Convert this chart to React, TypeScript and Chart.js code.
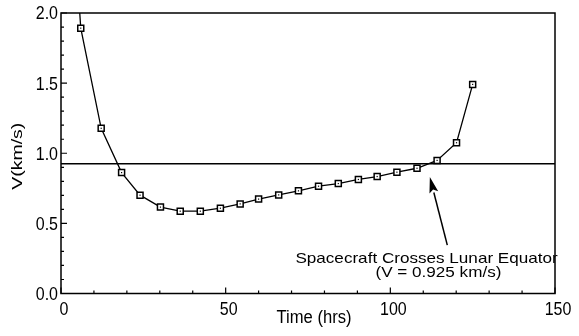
import React, { useEffect, useRef } from 'react';
import { Chart, registerables } from 'chart.js';

Chart.register(...registerables);

// Data
const timeHrs = [0, 6, 12.2, 18.4, 24, 30.2, 36.2, 42.3, 48.4, 54.4, 60, 66.1, 72.1, 78.2, 84.2, 90.3, 96, 102, 108.1, 114.2, 120.1, 125];
const velocity = [4.0, 1.892, 1.178, 0.862, 0.701, 0.616, 0.587, 0.587, 0.608, 0.639, 0.673, 0.703, 0.732, 0.765, 0.784, 0.813, 0.834, 0.865, 0.893, 0.949, 1.075, 1.491];
const equatorV = 0.925;
const xRange = [0, 150];
const yRange = [0, 2];
const xStep = 50;
const yStep = 0.5;
const xMinorStep = 10;
const yMinorStep = 0.1;
const xTitle = 'Time (hrs)';
const yTitle = 'V(km/s)';
const noteLine1 = 'Spacecraft Crosses Lunar Equator';
const noteLine2 = '(V = 0.925 km/s)';
// annotation anchor positions in data units
const note1At = [111.0, 0.256];
const note2At = [114.6, 0.153];
const arrowTip = [112.0, 0.831];
const arrowTail = [117.3, 0.345];

const FONT = '"Liberation Sans", Arial, Helvetica, sans-serif';

function drawText(ctx: CanvasRenderingContext2D, text: string, x: number, y: number, size: number, sx: number, sy: number, align: CanvasTextAlign, rot = 0) {
  ctx.save();
  ctx.translate(x, y);
  if (rot) ctx.rotate(rot);
  ctx.scale(sx, sy);
  ctx.font = `${size}px ${FONT}`;
  ctx.textAlign = align;
  ctx.textBaseline = 'alphabetic';
  ctx.fillStyle = '#000';
  ctx.fillText(text, 0, 0);
  ctx.restore();
}

const decor = {
  id: 'decor',
  afterDatasetsDraw(chart: any) {
    const { ctx, chartArea: a, scales } = chart;
    const xs = scales.x;
    const ys = scales.y;
    ctx.save();
    // centre dots of markers
    const meta = chart.getDatasetMeta(1);
    ctx.fillStyle = '#000';
    meta.data.forEach((pt: any) => {
      if (pt.x >= a.left && pt.x <= a.right && pt.y >= a.top && pt.y <= a.bottom) {
        ctx.fillRect(pt.x - 0.6, pt.y - 0.6, 1.2, 1.2);
      }
    });
    // frame
    ctx.strokeStyle = '#000';
    ctx.lineWidth = 1.5;
    ctx.strokeRect(a.left, a.top, a.right - a.left, a.bottom - a.top);
    // ticks (inward)
    ctx.lineWidth = 1.2;
    ctx.beginPath();
    const nx = Math.round((xRange[1] - xRange[0]) / xMinorStep);
    for (let i = 0; i <= nx; i++) {
      const v = xRange[0] + i * xMinorStep;
      const px = xs.getPixelForValue(v);
      const len = Math.abs(v % xStep) < 1e-6 ? 6 : 3;
      ctx.moveTo(px, a.bottom);
      ctx.lineTo(px, a.bottom - len);
    }
    const ny = Math.round((yRange[1] - yRange[0]) / yMinorStep);
    for (let i = 0; i <= ny; i++) {
      const v = yRange[0] + i * yMinorStep;
      const py = ys.getPixelForValue(v);
      const major = i % Math.round(yStep / yMinorStep) === 0;
      ctx.moveTo(a.left, py);
      ctx.lineTo(a.left + (major ? 6 : 3), py);
    }
    ctx.stroke();

    // tick labels
    xs.ticks.forEach((t: any) => {
      const px = xs.getPixelForValue(t.value);
      drawText(ctx, String(t.value), px + 3, a.bottom + 21.5, 16, 1, 1.15, 'center');
    });
    ys.ticks.forEach((t: any) => {
      const py = ys.getPixelForValue(t.value);
      drawText(ctx, Number(t.value).toFixed(1), a.left - 3, py + 6.4, 16, 1, 1.12, 'right');
    });

    // axis titles
    drawText(ctx, xTitle, (a.left + a.right) / 2 + 6, a.bottom + 29.2, 16.6, 1, 1.15, 'center');
    drawText(ctx, yTitle, a.left - 39, (a.top + a.bottom) / 2 + 3, 15, 1.3, 1, 'center', -Math.PI / 2);

    // arrow
    const tx = xs.getPixelForValue(arrowTip[0]);
    const ty = ys.getPixelForValue(arrowTip[1]);
    const sx = xs.getPixelForValue(arrowTail[0]);
    const sy = ys.getPixelForValue(arrowTail[1]);
    const ang = Math.atan2(ty - sy, tx - sx);
    const headLen = 16;
    const headHalf = 4.5;
    const bx = tx - headLen * Math.cos(ang);
    const by = ty - headLen * Math.sin(ang);
    ctx.lineWidth = 1.5;
    ctx.beginPath();
    ctx.moveTo(sx, sy);
    ctx.lineTo(bx, by);
    ctx.stroke();
    ctx.beginPath();
    ctx.moveTo(tx, ty);
    ctx.lineTo(bx + headHalf * Math.sin(ang), by - headHalf * Math.cos(ang));
    ctx.lineTo(bx + 3 * Math.cos(ang), by + 3 * Math.sin(ang));
    ctx.lineTo(bx - headHalf * Math.sin(ang), by + headHalf * Math.cos(ang));
    ctx.closePath();
    ctx.fill();

    // annotation text
    drawText(ctx, noteLine1, xs.getPixelForValue(note1At[0]), ys.getPixelForValue(note1At[1]) + 5.4, 15, 1.14, 1, 'center');
    drawText(ctx, noteLine2, xs.getPixelForValue(note2At[0]), ys.getPixelForValue(note2At[1]) + 5.4, 15, 1.14, 1, 'center');
    ctx.restore();
  },
};

export default function App() {
  const ref = useRef<HTMLCanvasElement | null>(null);
  useEffect(() => {
    document.body.style.margin = '0';
    const canvas = ref.current;
    if (!canvas) return;
    const chart = new Chart(canvas, {
      type: 'line',
      data: {
        datasets: [
          {
            data: [
              { x: xRange[0], y: equatorV },
              { x: xRange[1], y: equatorV },
            ],
            borderColor: '#000',
            borderWidth: 1.4,
            pointRadius: 0,
          },
          {
            data: timeHrs.map((t, i) => ({ x: t, y: velocity[i] })),
            borderColor: '#000',
            borderWidth: 1.3,
            pointStyle: 'rect',
            pointRadius: 4.25,
            pointBorderWidth: 1.5,
            pointBorderColor: '#000',
            pointBackgroundColor: '#fff',
          },
        ],
      },
      options: {
        responsive: false,
        devicePixelRatio: 1,
        animation: false,
        events: [],
        layout: { padding: { top: 13, right: 24, left: 0, bottom: 0 } },
        plugins: { legend: { display: false }, tooltip: { enabled: false } },
        scales: {
          x: {
            type: 'linear',
            min: xRange[0],
            max: xRange[1],
            ticks: { stepSize: xStep, display: false },
            grid: { display: false },
            border: { display: false },
            afterFit: (s: any) => { s.height = 42.5; },
          },
          y: {
            type: 'linear',
            min: yRange[0],
            max: yRange[1],
            ticks: { stepSize: yStep, display: false },
            grid: { display: false },
            border: { display: false },
            afterFit: (s: any) => { s.width = 61; },
          },
        },
      },
      plugins: [decor],
    } as any);
    return () => chart.destroy();
  }, []);
  return <canvas ref={ref} width={579} height={336} style={{ display: 'block' }} />;
}
